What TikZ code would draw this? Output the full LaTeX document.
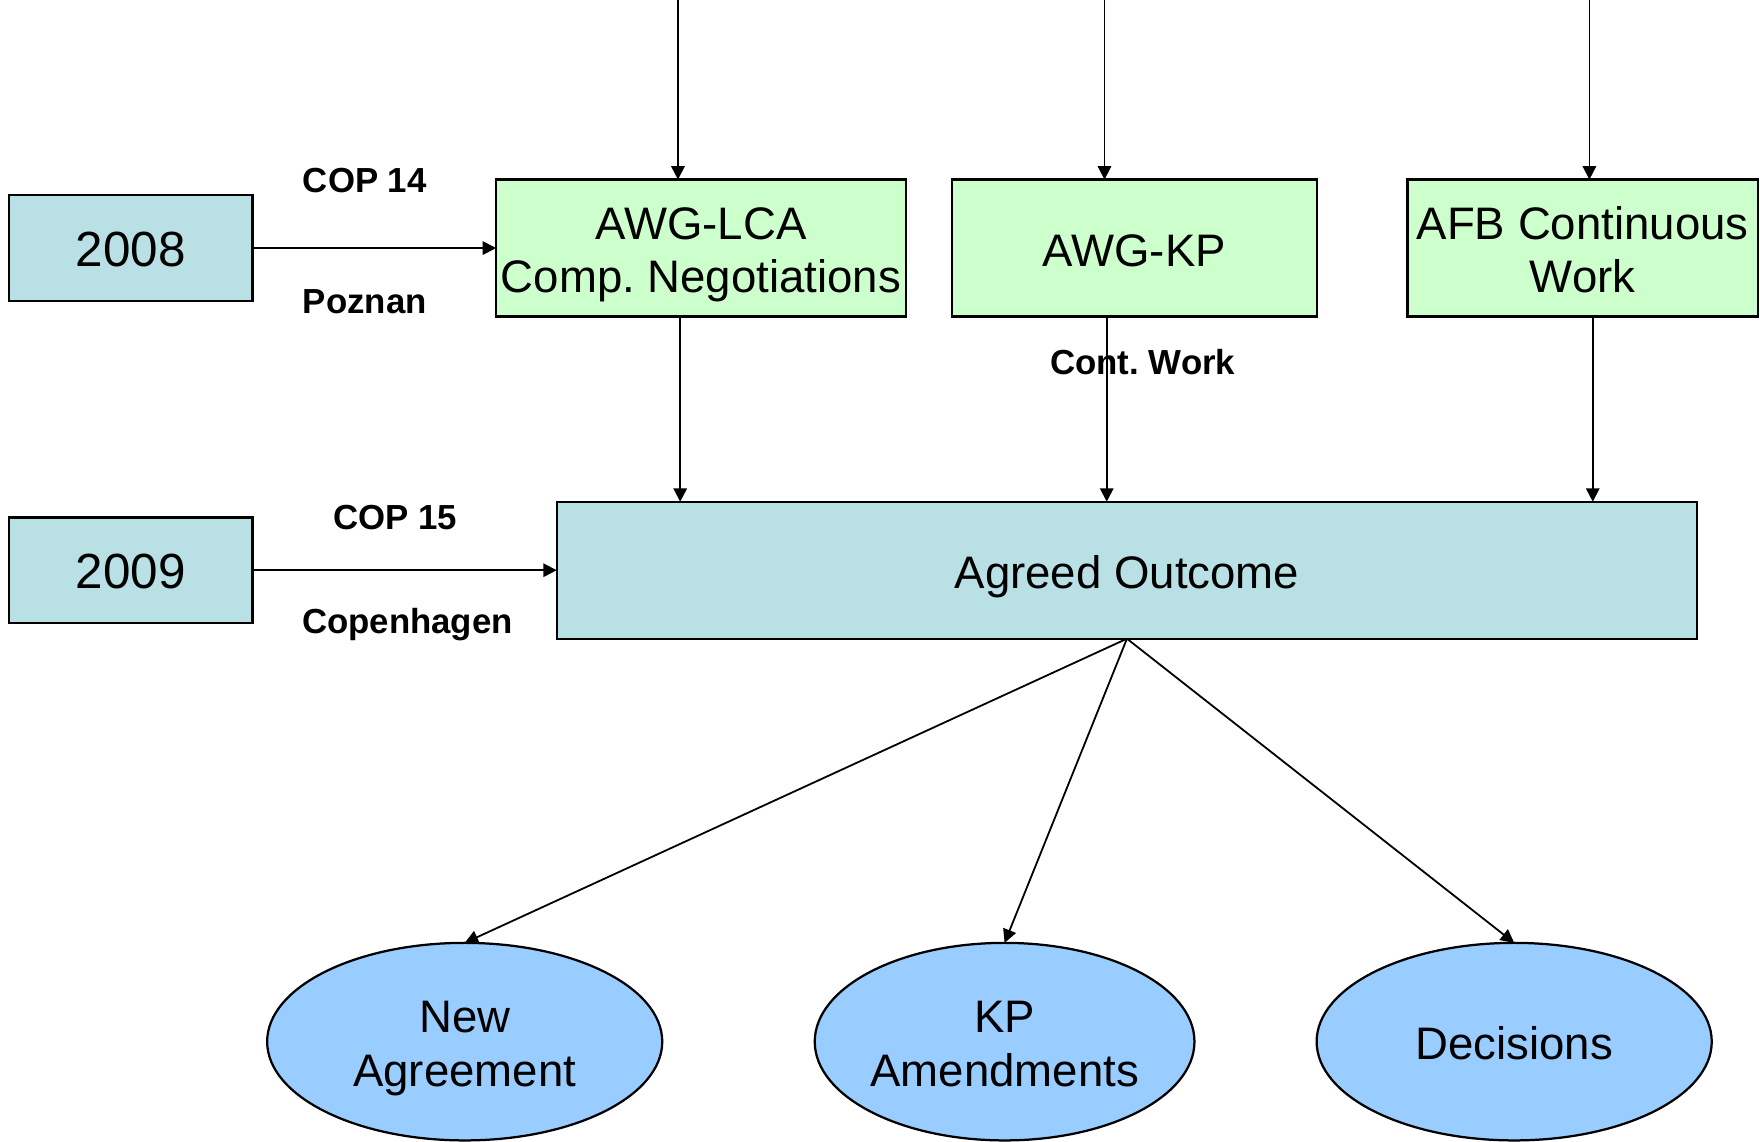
\documentclass[tikz,border=0pt]{standalone}
\usepackage{fontspec}
\setmainfont{Liberation Sans}
\newfontfamily\lblfont{Liberation Sans}
\usetikzlibrary{arrows.meta,shapes.geometric}
\definecolor{yearblue}{RGB}{185,224,228}
\definecolor{boxgreen}{RGB}{204,255,204}
\definecolor{ellblue}{RGB}{153,204,255}
\frenchspacing
% one line of text with a fixed height and no depth, so that all boxes centre alike
\newcommand{\txtline}[1]{\raisebox{0pt}[16pt][0pt]{#1}}
\begin{document}
\begin{tikzpicture}[x=0.5pt,y=-0.5pt,
  every node/.style={inner sep=0pt,outer sep=0pt},
  boxtext/.style={align=center,font=\fontsize{20.3}{24}\selectfont},
  yearbox/.style={draw=black,line width=1pt,fill=yearblue,rectangle,align=center,font=\fontsize{22}{24}\selectfont,minimum width=108.5pt,minimum height=47pt},
  outcomebox/.style={draw=black,line width=1pt,fill=yearblue,rectangle,boxtext},
  greenbox/.style={draw=black,line width=1pt,fill=boxgreen,rectangle,boxtext,minimum height=61pt},
  outbox/.style={draw=black,line width=1pt,fill=ellblue,ellipse,boxtext,minimum width=176pt,minimum height=88pt},
  lbl/.style={font=\lblfont\bfseries\fontsize{15.5}{18}\selectfont,anchor=center},
  conn/.style={line width=0.8pt,-{Triangle[length=6pt,width=6pt]}}
]
\useasboundingbox (0,0) rectangle (1568,1017);

% year boxes
\node[yearbox] (y8) at (116.5,221) {\txtline{2008}};
\node[yearbox] (y9) at (116.5,508) {\txtline{2009}};

% working group boxes
\node[greenbox,minimum width=182.5pt] (lca) at (624.5,221) {\txtline{AWG-LCA}\\\txtline{Comp. Negotiations}};
\node[greenbox,minimum width=162.5pt] (kp) at (1010.5,221) {\txtline{AWG-KP}};
\node[greenbox,minimum width=156pt] (afb) at (1410,221) {\txtline{AFB Continuous}\\\txtline{Work}};

% agreed outcome
\node[outcomebox,minimum width=508pt,minimum height=61pt] (ao) at (1004,508) {\txtline{Agreed Outcome}};

% ellipses
\node[outbox] (na) at (414,928) {\txtline{New}\\\txtline{Agreement}};
\node[outbox,minimum width=169pt] (kpa) at (895,928) {\txtline{KP}\\\txtline{Amendments}};
\node[outbox] (dec) at (1349,928) {\txtline{Decisions}};

% free top ends and column positions
\coordinate (t1) at (604,0);
\coordinate (t2) at (984,0);
\coordinate (t3) at (1416,0);
\coordinate (b1) at (606,0);
\coordinate (b2) at (986,0);
\coordinate (b3) at (1419,0);

\draw[conn] (t1) -- (t1 |- lca.north);
\draw[conn] (t2) -- (t2 |- kp.north);
\draw[conn] (t3) -- (t3 |- afb.north);

\draw[conn] (b1 |- lca.south) -- (b1 |- ao.north);
\draw[conn] (b2 |- kp.south) -- (b2 |- ao.north);
\draw[conn] (b3 |- afb.south) -- (b3 |- ao.north);

\draw[conn] (y8.east) -- (y8.east -| lca.west);
\draw[conn] (y9.east) -- (y9.east -| ao.west);

\draw[conn] (ao.south) -- (na.north);
\draw[conn] (ao.south) -- (kpa.north);
\draw[conn] (ao.south) -- (dec.north);

% labels
\node[lbl] (c14) at (325,161) {COP 14};
\node[lbl] (pz) at (325,269) {Poznan};
\node[lbl] (c15) at (352,461) {COP 15};
\node[lbl] (cph) at (363,556) {Copenhagen};
\node[lbl] (cw) at (1018,323) {Cont. Work};
\end{tikzpicture}
\end{document}
